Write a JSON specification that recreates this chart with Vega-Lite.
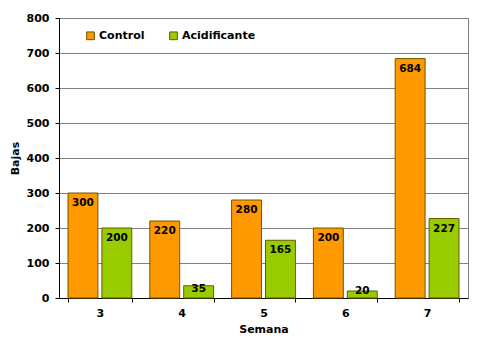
{
  "$schema": "https://vega.github.io/schema/vega-lite/v6.json",
  "autosize": "none",
  "width": 409,
  "height": 280,
  "padding": {"left": 59, "top": 18, "right": 12, "bottom": 49},
  "background": "white",
  "config": {
    "font": "DejaVu Sans",
    "view": {"stroke": "#808080", "strokeWidth": 1},
    "axis": {"labelFont": "DejaVu Sans", "labelFontWeight": "bold", "labelFontSize": 11, "labelColor": "black", "titleFont": "DejaVu Sans", "titleFontWeight": "bold", "titleFontSize": 11, "titleColor": "black", "domainColor": "black", "tickColor": "black", "tickSize": 4, "labelOverlap": false}
  },
  "data": {
    "values": [
      {"Semana": "3", "Serie": "Control", "Bajas": 300},
      {"Semana": "3", "Serie": "Acidificante", "Bajas": 200},
      {"Semana": "4", "Serie": "Control", "Bajas": 220},
      {"Semana": "4", "Serie": "Acidificante", "Bajas": 35},
      {"Semana": "5", "Serie": "Control", "Bajas": 280},
      {"Semana": "5", "Serie": "Acidificante", "Bajas": 165},
      {"Semana": "6", "Serie": "Control", "Bajas": 200},
      {"Semana": "6", "Serie": "Acidificante", "Bajas": 20},
      {"Semana": "7", "Serie": "Control", "Bajas": 684},
      {"Semana": "7", "Serie": "Acidificante", "Bajas": 227}
    ]
  },
  "encoding": {
    "x": {
      "field": "Semana", "type": "nominal",
      "scale": {"paddingInner": 0.22, "paddingOuter": 0.11},
      "axis": {"labelAngle": 0, "title": "Semana", "tickBand": "extent", "labelPadding": 5, "titlePadding": 5, "grid": false}
    },
    "xOffset": {"field": "Serie", "type": "nominal", "sort": ["Control", "Acidificante"], "scale": {"paddingInner": 0.118, "paddingOuter": 0}}
  },
  "layer": [
    {
      "mark": {"type": "bar", "stroke": "#6b5800", "strokeWidth": 1},
      "encoding": {
        "y": {
          "field": "Bajas", "type": "quantitative",
          "scale": {"domain": [0, 800], "nice": false},
          "axis": {"values": [0, 100, 200, 300, 400, 500, 600, 700, 800], "grid": true, "gridColor": "#808080", "gridOpacity": 1, "title": "Bajas", "titlePadding": 6, "labelPadding": 6}
        },
        "color": {
          "field": "Serie", "type": "nominal",
          "sort": ["Control", "Acidificante"],
          "scale": {"domain": ["Control", "Acidificante"], "range": ["#FF9900", "#99CC00"]},
          "legend": {
            "title": null, "orient": "none", "legendX": 26, "legendY": 12,
            "direction": "horizontal", "symbolType": "square", "symbolSize": 60,
            "symbolStrokeColor": "#6b5800", "symbolStrokeWidth": 1,
            "labelFontWeight": "bold", "labelFontSize": 11, "labelColor": "black",
            "labelFont": "DejaVu Sans", "columnPadding": 22, "labelOffset": 3
          }
        }
      }
    },
    {
      "transform": [{"calculate": "max(datum.Bajas - 29, min(datum.Bajas, 25))", "as": "labelPos"}],
      "mark": {"type": "text", "fontWeight": "bold", "fontSize": 10.5, "color": "black", "baseline": "middle", "font": "DejaVu Sans"},
      "encoding": {
        "y": {
          "field": "labelPos", "type": "quantitative",
          "axis": {"values": [0, 100, 200, 300, 400, 500, 600, 700, 800], "grid": true, "gridColor": "#808080", "gridOpacity": 1, "title": "Bajas", "titlePadding": 6, "labelPadding": 6}
        },
        "text": {"field": "Bajas", "type": "quantitative"}
      }
    }
  ]
}
